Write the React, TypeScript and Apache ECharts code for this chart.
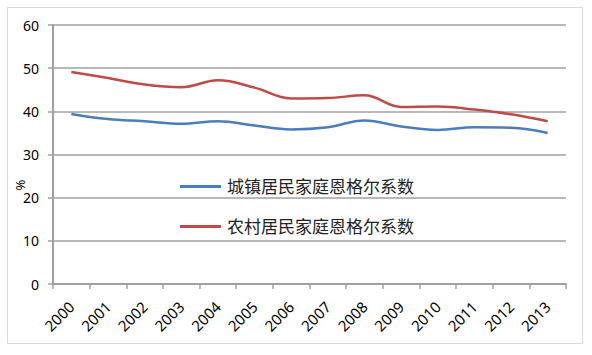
import React, { useEffect, useRef } from "react";
import * as echarts from "echarts";

const years = ["2000","2001","2002","2003","2004","2005","2006","2007","2008","2009","2010","2011","2012","2013"];
const urban = [39.4, 38.2, 37.7, 37.1, 37.7, 36.7, 35.8, 36.3, 37.9, 36.5, 35.7, 36.3, 36.2, 35.0];
const rural = [49.1, 47.7, 46.2, 45.6, 47.2, 45.5, 43.0, 43.1, 43.7, 41.0, 41.1, 40.4, 39.3, 37.7];
const urbanName = "城镇居民家庭恩格尔系数";
const ruralName = "农村居民家庭恩格尔系数";
const yTicks = [0, 10, 20, 30, 40, 50, 60];

export default function App() {
  const ref = useRef<HTMLDivElement>(null);
  useEffect(() => {
    if (!ref.current) return;
    const chart = echarts.init(ref.current, null, { renderer: "svg" });
    const font = "'Noto Sans', 'Noto Sans CJK SC', sans-serif";
    chart.setOption({
      animation: false,
      backgroundColor: "#ffffff",
      textStyle: { fontFamily: font },
      grid: { left: 53, right: 26, top: 25, bottom: 71 },
      graphic: [
        {
          type: "rect",
          shape: { x: 7.5, y: 7.5, width: 575, height: 336 },
          style: { fill: "none", stroke: "#d9d9d9", lineWidth: 1 },
          silent: true,
          z: -1,
        },
        {
          type: "text",
          x: 20,
          y: 185,
          rotation: Math.PI / 2,
          style: {
            text: "%",
            fontSize: 13,
            fill: "#000",
            fontFamily: font,
            align: "center",
            verticalAlign: "middle",
          },
        },
      ],
      legend: {
        orient: "vertical",
        left: 180,
        top: 178,
        padding: 0,
        itemGap: 23,
        itemWidth: 41,
        itemHeight: 3,
        icon: "rect",
        textStyle: { fontSize: 17, color: "#222", fontFamily: font, padding: [0, 0, 0, 1] },
        data: [urbanName, ruralName],
      },
      xAxis: {
        type: "category",
        data: years,
        boundaryGap: true,
        axisLine: { lineStyle: { color: "#a0a0a0", width: 2 } },
        axisTick: { show: true, length: 5, lineStyle: { color: "#a0a0a0", width: 1.5 } },
        axisLabel: { rotate: 45, fontSize: 15, color: "#000", margin: 20, interval: 0 },
      },
      yAxis: {
        type: "value",
        min: 0,
        max: 60,
        interval: 10,
        axisLine: { show: true, lineStyle: { color: "#a0a0a0", width: 2 } },
        axisTick: { show: true, length: 5, lineStyle: { color: "#a0a0a0", width: 1.5 } },
        axisLabel: {
          fontSize: 14,
          color: "#000",
          margin: 14,
          formatter: (v: number) => (yTicks.includes(v) ? String(v) : ""),
        },
        splitLine: { lineStyle: { color: "#a0a0a0", width: 1.5 } },
      },
      series: [
        {
          name: urbanName,
          type: "line",
          data: urban,
          smooth: 0.4,
          showSymbol: false,
          symbol: "none",
          lineStyle: { color: "#4a7ebb", width: 2.5 },
          itemStyle: { color: "#4a7ebb" },
        },
        {
          name: ruralName,
          type: "line",
          data: rural,
          smooth: 0.4,
          showSymbol: false,
          symbol: "none",
          lineStyle: { color: "#be4b48", width: 2.5 },
          itemStyle: { color: "#be4b48" },
        },
      ],
    });
    return () => chart.dispose();
  }, []);
  return (
    <div
      ref={ref}
      style={{ position: "fixed", left: 0, top: 0, width: 592, height: 355 }}
    />
  );
}
